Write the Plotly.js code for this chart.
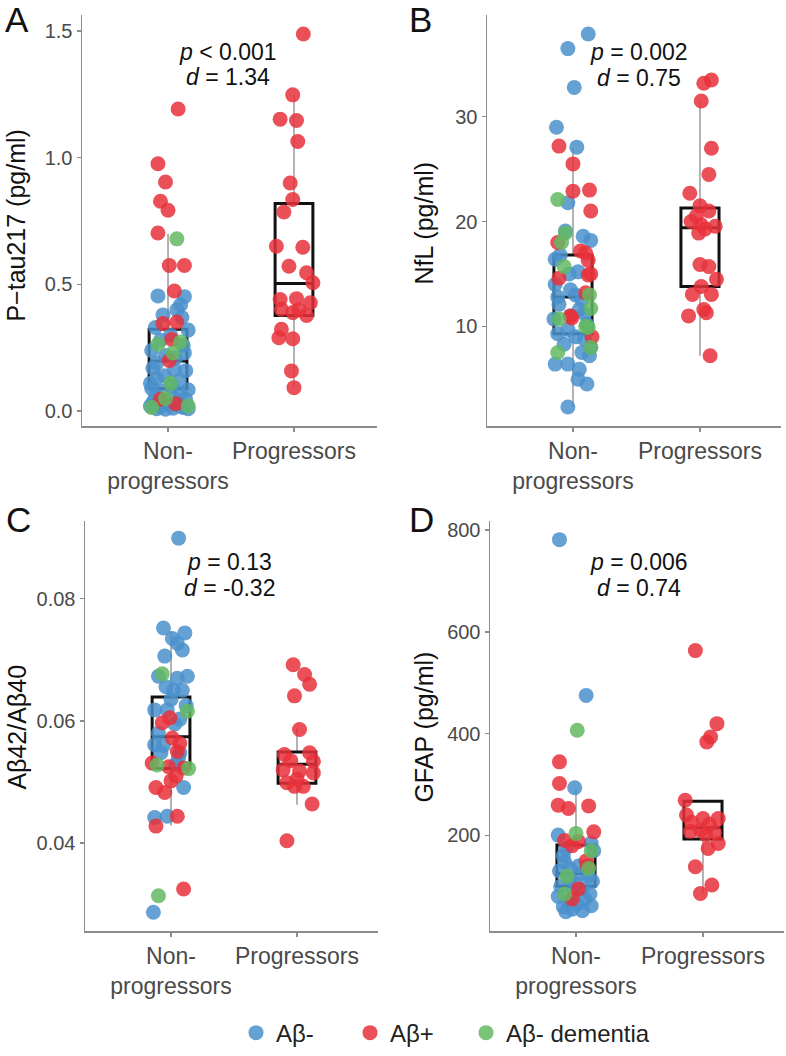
<!DOCTYPE html>
<html><head><meta charset="utf-8">
<script src="https://cdn.plot.ly/plotly-3.0.1.min.js"></script>
<style>body{margin:0;background:#fff}#chart{width:786px;height:1056px}</style>
</head><body><div id="chart"></div>
<script>
// ---------- DATA ----------
const groupLabels = ['Non-<br>progressors', 'Progressors'];
const legendNames = ['Aβ-', 'Aβ+', 'Aβ- dementia'];
const yTitles = ['P\u2212tau217 (pg/ml)', 'NfL (pg/ml)', 'Aβ42/Aβ40', 'GFAP (pg/ml)'];
const panelLetters = ['A', 'B', 'C', 'D'];
const pLines = ['<i>p</i> &lt; 0.001', '<i>p</i> = 0.002', '<i>p</i> = 0.13', '<i>p</i> = 0.006'];
const dLines = ['<i>d</i> = 1.34', '<i>d</i> = 0.75', '<i>d</i> = -0.32', '<i>d</i> = 0.74'];

const tickValsA = [0, 0.5, 1.0, 1.5];
const tickTextA = ['0.0', '0.5', '1.0', '1.5'];
const tickValsB = [10, 20, 30];
const tickTextB = ['10', '20', '30'];
const tickValsC = [0.04, 0.06, 0.08];
const tickTextC = ['0.04', '0.06', '0.08'];
const tickValsD = [200, 400, 600, 800];
const tickTextD = ['200', '400', '600', '800'];

// Panel A: P-tau217
const A_np_blue = [0.455,0.452,0.42,0.40,0.38,0.37,0.33,0.32,0.30,0.28,0.26,0.24,0.23,0.22,0.21,0.19,0.17,0.165,0.16,0.14,0.13,0.12,0.11,0.10,0.09,0.085,0.08,0.07,0.06,0.05,0.045,0.035,0.03,0.025,0.02,0.018,0.015,0.012,0.01,0.01,0.008,0.02];
const A_np_blue_jit = [-0.08,0.13,0.10,0.07,-0.04,0.11,-0.10,0.16,0.02,-0.06,0.12,-0.13,0.13,-0.02,0.06,-0.09,-0.12,0.05,0.14,-0.03,-0.09,0.09,-0.14,0.03,-0.13,0.16,-0.05,0.10,-0.10,0.05,0.14,-0.12,0.00,0.08,-0.14,-0.06,0.12,0.04,-0.09,0.16,-0.02,0.10];
const A_np_red = [1.192,0.976,0.904,0.828,0.793,0.703,0.575,0.575,0.474,0.346,0.352,0.283,0.20,0.047,0.03];
const A_np_red_jit = [0.08,-0.08,-0.02,-0.06,0.00,-0.08,0.01,0.13,0.05,-0.04,0.07,0.03,0.01,-0.06,0.06];
const A_np_green = [0.68,0.273,0.264,0.11,0.021,0.015,0.05,0.23];
const A_np_green_jit = [0.07,0.10,-0.08,0.02,0.16,-0.13,-0.02,0.04];
const A_pr_red = [1.488,1.248,1.152,1.147,1.064,0.900,0.835,0.786,0.651,0.647,0.572,0.546,0.507,0.441,0.444,0.428,0.402,0.389,0.378,0.40,0.323,0.290,0.286,0.159,0.093];
const A_pr_red_jit = [0.074,-0.01,-0.11,0.02,0.03,-0.03,-0.01,-0.08,-0.14,0.07,-0.04,0.10,0.15,-0.11,0.02,0.13,-0.10,-0.01,0.10,0.04,-0.10,-0.12,-0.01,-0.02,0.00];
const A_box = {q1:[0.09,0.378], median:[0.198,0.504], q3:[0.323,0.819], lower:[0.01,0.093], upper:[0.70,1.248]};

// Panel B: NfL
const B_np_blue = [37.9,36.5,32.8,29.0,27.1,21.8,19.1,18.6,18.2,16.8,16.4,15.2,15.0,14.0,13.5,12.5,12.8,12.1,11.6,11.2,10.7,10.2,9.7,9.3,9.0,8.8,8.3,8.0,7.5,7.2,6.4,6.4,5.9,4.95,4.5,2.3,11.0,13.0];
const B_np_blue_jit = [0.12,-0.04,0.01,-0.13,0.03,-0.04,-0.06,0.08,0.14,-0.10,-0.14,0.04,-0.03,-0.14,-0.02,0.07,-0.12,-0.11,0.05,0.09,-0.15,0.11,-0.04,-0.12,0.02,0.09,-0.07,0.14,0.07,0.13,-0.14,-0.04,0.05,0.04,0.11,-0.04,-0.02,0.02];
const B_np_red = [27.2,25.5,22.9,23.0,21.0,18.0,17.2,17.0,16.3,15.0,14.6,14.9,13.2,11.0,9.0,10.8];
const B_np_red_jit = [-0.11,0.00,0.00,0.13,0.14,-0.12,0.06,0.10,0.12,0.14,-0.11,0.12,0.10,-0.02,0.15,-0.01];
const B_np_green = [22.1,18.9,18.0,15.7,13.0,11.7,10.7,10.0,8.0,7.5,9.9];
const B_np_green_jit = [-0.12,-0.06,-0.09,-0.07,0.13,0.14,-0.11,0.10,0.14,-0.12,0.12];
const B_pr_red = [33.2,33.5,31.5,27.0,24.5,22.7,21.5,21.0,20.5,19.55,20.0,19.7,19.3,18.9,15.9,15.7,14.5,13.8,13.05,13.05,11.6,11.3,11.0,7.2];
const B_pr_red_jit = [0.03,0.09,0.01,0.09,0.07,-0.08,0.00,0.07,-0.03,0.12,-0.07,0.01,0.04,-0.01,0.00,0.07,0.13,0.01,-0.06,0.09,0.03,0.05,-0.09,0.08];
const B_box = {q1:[9.3,13.8], median:[12.8,19.4], q3:[16.8,21.3], lower:[2.3,7.2], upper:[27.0,31.4]};

// Panel C: Abeta42/40
const C_np_blue = [0.0899,0.0752,0.0744,0.0735,0.0727,0.0716,0.0706,0.0673,0.0670,0.0673,0.0656,0.0650,0.0650,0.0635,0.0618,0.0618,0.0603,0.0595,0.0561,0.0560,0.0548,0.0548,0.0540,0.0491,0.0442,0.0444,0.0287,0.0530,0.0580,0.0625];
const C_np_blue_jit = [0.06,-0.06,0.11,0.01,0.05,0.09,-0.05,-0.10,0.05,0.13,-0.04,0.02,0.09,0.00,-0.13,-0.03,0.07,0.03,-0.13,-0.06,0.07,-0.08,0.06,0.10,-0.13,-0.03,-0.14,0.04,-0.10,0.12];
const C_np_red = [0.0605,0.0597,0.0572,0.0563,0.0531,0.0525,0.0523,0.0502,0.0491,0.0483,0.0444,0.0428,0.0325,0.0510,0.0550];
const C_np_red_jit = [-0.01,-0.07,0.01,0.07,-0.15,-0.02,0.10,0.00,-0.12,-0.05,0.05,-0.12,0.10,0.04,0.05];
const C_np_green = [0.0677,0.0616,0.0528,0.0522,0.0314];
const C_np_green_jit = [-0.07,0.13,-0.11,0.14,-0.10];
const C_pr_red = [0.0692,0.0676,0.0660,0.0641,0.0586,0.0545,0.0548,0.0535,0.0534,0.0520,0.0518,0.0515,0.0499,0.0505,0.0493,0.0493,0.0464,0.0404];
const C_pr_red_jit = [-0.03,0.06,0.10,-0.02,0.02,-0.10,0.10,-0.05,0.13,-0.11,0.02,0.13,-0.08,0.00,0.05,-0.02,0.12,-0.08];
const C_box = {q1:[0.0522,0.0498], median:[0.0574,0.0529], q3:[0.0639,0.0549], lower:[0.0429,0.0463], upper:[0.0747,0.0589]};

// Panel D: GFAP
const D_np_blue = [781,475,293.5,200.6,185,170,160,148,140,130,120,115,110,100,95,90,85,80,75,70,65,62,60,55,52,50,105,125,135,175];
const D_np_blue_jit = [-0.13,0.08,-0.01,-0.14,0.12,0.14,-0.10,-0.09,0.02,-0.13,0.10,-0.05,0.13,-0.12,0.05,-0.02,0.11,-0.14,0.07,-0.06,0.01,0.12,-0.10,-0.03,0.05,-0.08,0.00,0.04,-0.05,-0.08];
const D_np_red = [344.5,302,259.5,253,258,207,190,188,180,150,140,95,75];
const D_np_red_jit = [-0.13,-0.13,-0.14,-0.06,0.10,0.14,-0.09,0.02,-0.03,0.08,0.09,0.02,-0.03];
const D_np_green = [406.5,204,170,135,120,85];
const D_np_green_jit = [0.01,0.00,0.12,0.10,-0.07,-0.09];
const D_pr_red = [563,419.6,393.5,383.7,269,240,233,233,226,222,210,208,206,202,184,174.5,138.6,102.5,86];
const D_pr_red_jit = [-0.06,0.11,0.06,0.03,-0.14,-0.13,0.12,0.00,-0.09,0.05,-0.02,-0.10,0.09,0.02,0.12,0.04,-0.06,0.07,-0.02];
const D_box = {q1:[100,193], median:[125,215], q3:[181,267], lower:[54,86], upper:[292,267]};

// ---------- STYLE ----------
const W = 786, H = 1056;
const fx = p => p / W;
const fy = p => 1 - p / H;
const FONT = 'Liberation Sans, Arial, Helvetica, sans-serif';
const COL = {blue: '#4a90cb', red: '#e8303a', green: '#63b961'};
const MS = 15, OP = 0.85;
const AXC = '#8c8c8c', TICKC = '#4a4a4a';

const panels = [
  {xa:'x',  ya:'y',  npB:A_np_blue, npBj:A_np_blue_jit, npR:A_np_red, npRj:A_np_red_jit, npG:A_np_green, npGj:A_np_green_jit, prR:A_pr_red, prRj:A_pr_red_jit, box:A_box,
   xdom:[82,377], ydom:[15,427], xr:[-0.683,1.659], yr:[-0.059,1.563], tv:tickValsA, tt:tickTextA},
  {xa:'x2', ya:'y2', npB:B_np_blue, npBj:B_np_blue_jit, npR:B_np_red, npRj:B_np_red_jit, npG:B_np_green, npGj:B_np_green_jit, prR:B_pr_red, prRj:B_pr_red_jit, box:B_box,
   xdom:[487,781], ydom:[15,427], xr:[-0.677,1.638], yr:[0.476,39.71], tv:tickValsB, tt:tickTextB},
  {xa:'x3', ya:'y3', npB:C_np_blue, npBj:C_np_blue_jit, npR:C_np_red, npRj:C_np_red_jit, npG:C_np_green, npGj:C_np_green_jit, prR:C_pr_red, prRj:C_pr_red_jit, box:C_box,
   xdom:[85,378], ydom:[522,933], xr:[-0.683,1.643], yr:[0.0256,0.0927], tv:tickValsC, tt:tickTextC},
  {xa:'x4', ya:'y4', npB:D_np_blue, npBj:D_np_blue_jit, npR:D_np_red, npRj:D_np_red_jit, npG:D_np_green, npGj:D_np_green_jit, prR:D_pr_red, prRj:D_pr_red_jit, box:D_box,
   xdom:[490,784], ydom:[522,933], xr:[-0.677,1.638], yr:[11.8,817.6], tv:tickValsD, tt:tickTextD}
];

const legendIds = ['legend', 'legend2', 'legend3'];
const legendX = [236, 350, 466];

const traces = [];
const layout = {
  width: W, height: H,
  margin: {l:0, r:0, t:0, b:0},
  paper_bgcolor: '#fff', plot_bgcolor: 'rgba(0,0,0,0)',
  font: {family: FONT, color: '#222'},
  hovermode: false,
  showlegend: true,
  annotations: []
};
legendIds.forEach((id, k) => {
  layout[id] = {orientation:'h', x: fx(legendX[k]), y: fy(1035), xanchor:'left', yanchor:'middle',
    font:{size:24, family: FONT, color:'#222'}, bgcolor:'rgba(0,0,0,0)'};
});

panels.forEach((P, i) => {
  const sfx = i === 0 ? '' : String(i + 1);
  // whiskers (gray)
  traces.push({type:'box', xaxis:P.xa, yaxis:P.ya, x:[0,1], q1:P.box.q1, median:P.box.median, q3:P.box.q3,
    lowerfence:P.box.lower, upperfence:P.box.upper, width:0.3, whiskerwidth:0,
    line:{color:'#9a9a9a', width:1.5}, fillcolor:'rgba(0,0,0,0)', boxpoints:false, showlegend:false, hoverinfo:'skip'});
  // box (black)
  traces.push({type:'box', xaxis:P.xa, yaxis:P.ya, x:[0,1], q1:P.box.q1, median:P.box.median, q3:P.box.q3,
    lowerfence:P.box.q1, upperfence:P.box.q3, width:0.3, whiskerwidth:0,
    line:{color:'#111', width:3}, fillcolor:'rgba(0,0,0,0)', boxpoints:false, showlegend:false, hoverinfo:'skip'});
  const pts = [
    [P.npB, P.npBj, 0, COL.blue, 0],
    [P.npR, P.npRj, 0, COL.red, 1],
    [P.npG, P.npGj, 0, COL.green, 2],
    [P.prR, P.prRj, 1, COL.red, 1]
  ];
  pts.forEach((g, k) => {
    traces.push({type:'scatter', mode:'markers', xaxis:P.xa, yaxis:P.ya,
      x: g[1].map(j => g[2] + j), y: g[0],
      marker:{size:MS, color:g[3], opacity:OP, line:{width:0}},
      name: legendNames[g[4]], legend: legendIds[g[4]], legendgroup: legendNames[g[4]],
      showlegend: (i === 0 && k < 3), hoverinfo:'skip'});
  });
  layout['xaxis' + sfx] = {domain:[fx(P.xdom[0]), fx(P.xdom[1])], anchor: P.ya, range:P.xr,
    tickmode:'array', tickvals:[0,1], ticktext:groupLabels, showline:true, linecolor:AXC, linewidth:1.5,
    ticks:'outside', ticklen:4, tickwidth:1.5, tickcolor:AXC, showgrid:false, zeroline:false,
    tickfont:{size:23, color:TICKC, family:FONT}, fixedrange:true};
  layout['yaxis' + sfx] = {domain:[fy(P.ydom[1]), fy(P.ydom[0])], anchor: P.xa, range:P.yr,
    tickmode:'array', tickvals:P.tv, ticktext:P.tt, showline:true, linecolor:AXC, linewidth:1.5,
    ticks:'outside', ticklen:4, tickwidth:1.5, tickcolor:AXC, showgrid:false, zeroline:false,
    tickfont:{size:20, color:TICKC, family:FONT}, fixedrange:true};
});

// annotations: letters, y titles, stats
const letterPos = [[3,20],[407,20],[4,520],[407,520]];
const ytitlePos = [[16,226],[424,224],[17,729],[424,729]];
const statPos = [[228,52,77],[639,52,78],[229,563,589],[639,563,589]];
panels.forEach((P, i) => {
  layout.annotations.push({xref:'paper', yref:'paper', x:fx(letterPos[i][0]), y:fy(letterPos[i][1]),
    xanchor:'left', yanchor:'middle', text:panelLetters[i], showarrow:false, font:{size:35, color:'#111', family:FONT}});
  layout.annotations.push({xref:'paper', yref:'paper', x:fx(ytitlePos[i][0]), y:fy(ytitlePos[i][1]),
    xanchor:'center', yanchor:'middle', textangle:-90, text:yTitles[i], showarrow:false, font:{size:25, color:'#111', family:FONT}});
  layout.annotations.push({xref:'paper', yref:'paper', x:fx(statPos[i][0]), y:fy(statPos[i][1]),
    xanchor:'center', yanchor:'middle', text:pLines[i], showarrow:false, font:{size:23, color:'#111', family:FONT}});
  layout.annotations.push({xref:'paper', yref:'paper', x:fx(statPos[i][0]), y:fy(statPos[i][2]),
    xanchor:'center', yanchor:'middle', text:dLines[i], showarrow:false, font:{size:23, color:'#111', family:FONT}});
});

Plotly.newPlot('chart', traces, layout, {displayModeBar:false, staticPlot:true});
</script>
</body></html>
